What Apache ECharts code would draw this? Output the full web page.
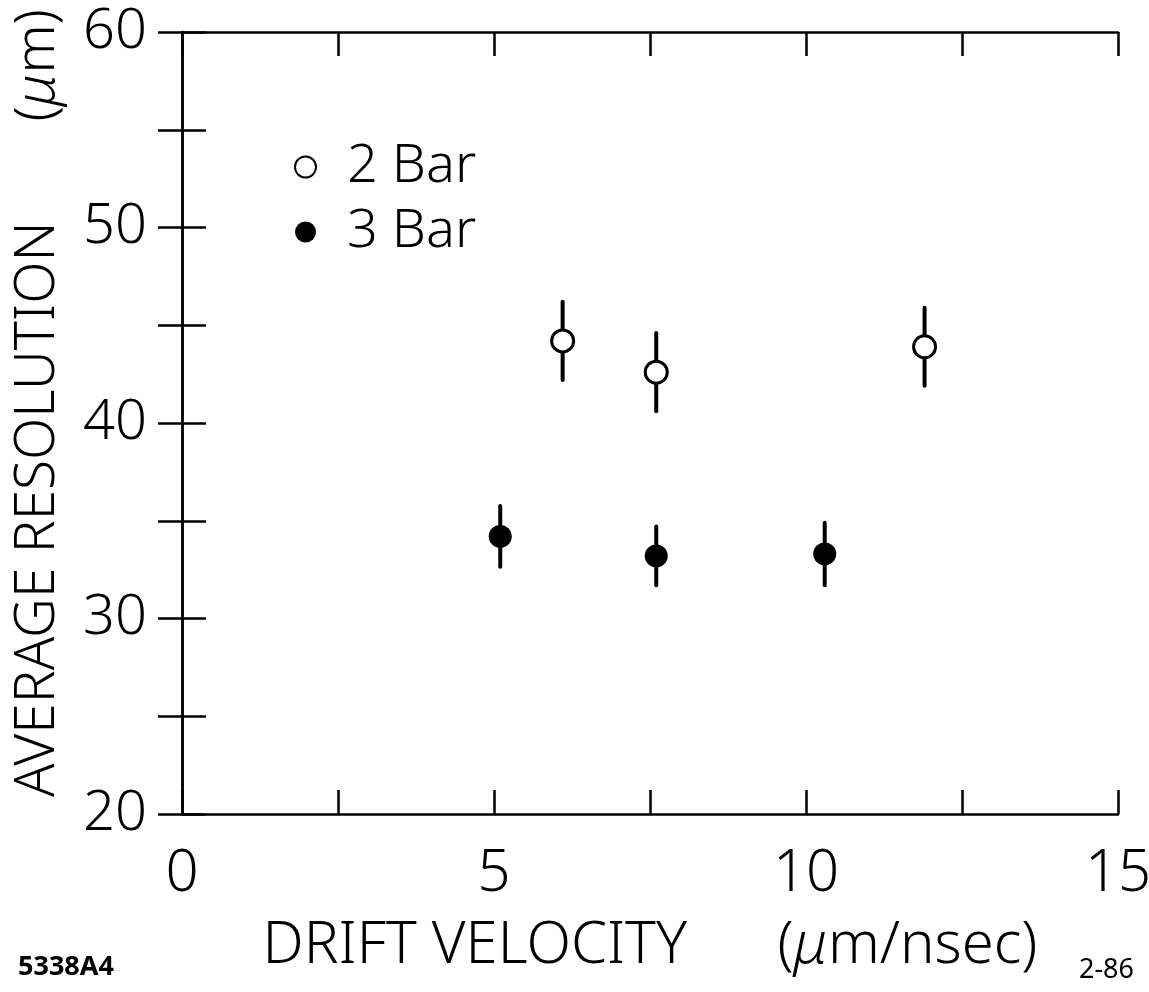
<!DOCTYPE html>
<html>
<head>
<meta charset="utf-8">
<script src="https://cdn.jsdelivr.net/npm/echarts@6/dist/echarts.min.js"></script>
<style>
  html, body { margin: 0; padding: 0; background: #fff; }
  #chart { width: 1149px; height: 992px; }
</style>
</head>
<body>
<div id="chart"></div>
<script>
// values
var bar2X = [6.1, 7.6, 11.9];
var bar2Y = [44.2, 42.6, 43.9];
var bar2Err = [2.0, 2.0, 2.0];

var bar3X = [5.1, 7.6, 10.3];
var bar3Y = [34.2, 33.2, 33.3];
var bar3Err = [1.55, 1.5, 1.6];

var xLabels = [0, 5, 10, 15];
var yLabels = [20, 30, 40, 50, 60];

var FONT = '"Noto Sans", "DejaVu Sans", sans-serif';

function pts(xs, ys, es) {
	var out = [];
	for (var i = 0; i < xs.length; i++) {
		out.push(es ? [xs[i], ys[i], es[i]] : [xs[i], ys[i]]);
	}
	return out;
}

function errBar(params, api) {
	var x = api.value(0), y = api.value(1), e = api.value(2);
	var lo = api.coord([x, y - e]);
	var hi = api.coord([x, y + e]);
	return {
		type: 'line',
		shape: { x1: lo[0], y1: lo[1], x2: hi[0], y2: hi[1] },
		style: { stroke: '#000', lineWidth: 4, lineCap: 'round' }
	};
}

var frameLine = { show: true, lineStyle: { color: '#000', width: 2.5 } };
var innerTick = { show: true, inside: true, length: 24, lineStyle: { color: '#000', width: 2.5 } };

var myChart = echarts.init(document.getElementById('chart'));

myChart.setOption({
	backgroundColor: '#fff',
	animation: false,
	grid: { left: 182, right: 31, top: 32, bottom: 178, outerBoundsMode: 'none' },
	legend: {
		orient: 'vertical',
		left: 289,
		top: 135,
		itemWidth: 21,
		itemHeight: 21,
		itemGap: 11,
		selectedMode: false,
		data: ['2 Bar', '3 Bar'],
		textStyle: { fontFamily: FONT, fontSize: 54, fontWeight: 300, color: '#000', padding: [0, 0, 0, 26] }
	},
	xAxis: [
		{
			type: 'value', min: 0, max: 15, interval: 2.5,
			position: 'bottom',
			axisLine: frameLine, axisTick: innerTick, splitLine: { show: false },
			axisLabel: {
				margin: 31, color: '#000', fontFamily: FONT, fontSize: 58, fontWeight: 300,
				formatter: function (v) { return xLabels.indexOf(v) >= 0 ? String(v) : ''; }
			},
			name: '{t|DRIFT VELOCITY      (}{m|μ}{t|m/nsec)}',
			nameLocation: 'middle',
			nameGap: 103,
			nameTextStyle: {
				rich: {
					t: { fontFamily: FONT, fontSize: 58, fontWeight: 300, color: '#000' },
					m: { fontFamily: FONT, fontSize: 58, fontWeight: 300, fontStyle: 'italic', color: '#000' }
				}
			}
		},
		{
			type: 'value', min: 0, max: 15, interval: 2.5,
			position: 'top',
			axisLine: frameLine, axisTick: innerTick, splitLine: { show: false },
			axisLabel: { show: false }
		}
	],
	yAxis: [
		{
			type: 'value', min: 20, max: 60, interval: 5,
			position: 'left',
			axisLine: frameLine, axisTick: innerTick, splitLine: { show: false },
			axisLabel: {
				margin: 35, color: '#000', fontFamily: FONT, fontSize: 56, fontWeight: 300,
				formatter: function (v) { return yLabels.indexOf(v) >= 0 ? String(v) : ''; }
			},
			name: '{t|AVERAGE RESOLUTION       (}{m|μ}{t|m)}',
			nameLocation: 'middle',
			nameGap: 116,
			nameTextStyle: {
				padding: [0, 0, 0, 40],
				rich: {
					t: { fontFamily: FONT, fontSize: 55, fontWeight: 300, color: '#000' },
					m: { fontFamily: FONT, fontSize: 55, fontWeight: 300, fontStyle: 'italic', color: '#000' }
				}
			}
		},
		{
			type: 'value', min: 20, max: 60, interval: 5,
			position: 'right',
			axisLine: frameLine, axisTick: innerTick, splitLine: { show: false },
			axisLabel: { show: false }
		}
	],
	series: [
		{
			name: 'err2', type: 'custom', renderItem: errBar, z: 1,
			encode: { x: 0, y: 1 },
			data: pts(bar2X, bar2Y, bar2Err)
		},
		{
			name: 'err3', type: 'custom', renderItem: errBar, z: 1,
			encode: { x: 0, y: 1 },
			data: pts(bar3X, bar3Y, bar3Err)
		},
		{
			name: '2 Bar', type: 'scatter', z: 3,
			symbol: 'circle', symbolSize: 22,
			itemStyle: { color: '#fff', borderColor: '#000', borderWidth: 3, opacity: 1 },
			data: pts(bar2X, bar2Y)
		},
		{
			name: '3 Bar', type: 'scatter', z: 3,
			symbol: 'circle', symbolSize: 23,
			itemStyle: { color: '#000', opacity: 1 },
			data: pts(bar3X, bar3Y)
		}
	],
	graphic: [
		{
			type: 'text', left: 18, top: 954,
			style: { text: '5338A4', fontFamily: FONT, fontSize: 27, fontWeight: 'bold', fill: '#000' }
		},
		{
			type: 'text', right: 15, top: 957,
			style: { text: '2-86', fontFamily: FONT, fontSize: 27, fill: '#000' }
		}
	]
});
</script>
</body>
</html>
